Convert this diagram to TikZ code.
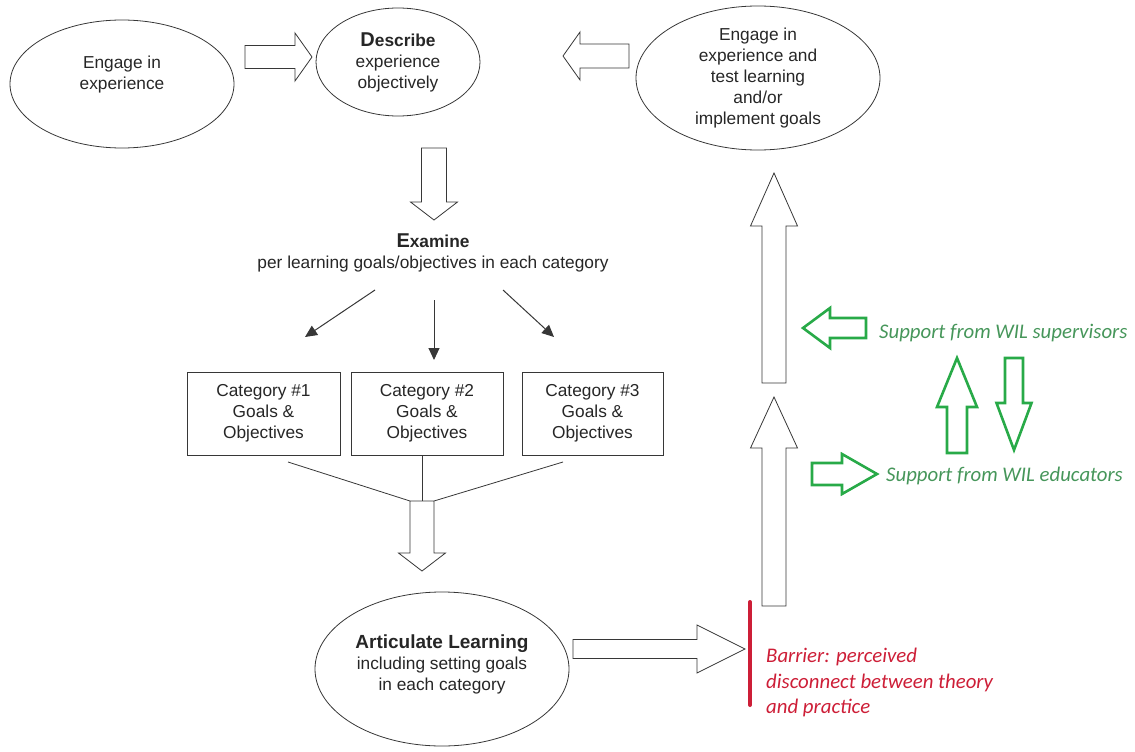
\documentclass[tikz,border=0pt]{standalone}
\usepackage{fontspec}
\setmainfont{Liberation Sans}
\newfontfamily\calib{Carlito}
\usetikzlibrary{positioning,calc,shapes.geometric,arrows.meta}
\definecolor{outline}{RGB}{55,55,55}
\definecolor{barred}{RGB}{205,30,55}
\definecolor{wilgreen}{RGB}{40,170,72}
\definecolor{wiltext}{RGB}{70,150,90}

% hollow block arrow: tail, angle, length, body half, head half, head length
\newcommand\blockarrow[7][]{%
  \draw[fat,#1,shift={(#2)},rotate=#3] (0,-#5) -- ({#4-#7},-#5) -- ({#4-#7},-#6)
    -- (#4,0) -- ({#4-#7},#6) -- ({#4-#7},#5) -- (0,#5) -- cycle;}

\begin{document}
\begin{tikzpicture}[
  x=1pt, y=-1pt,
  every node/.style={font=\fontsize{17.3}{21}\selectfont, text=black!85},
  oval/.style={ellipse, draw=outline, line width=0.8pt, inner sep=0pt, align=center},
  catbox/.style={rectangle, draw=outline, line width=0.8pt, inner sep=0pt, align=center, minimum height=83pt},
  fat/.style={draw=outline, line width=0.8pt, fill=white, line join=miter},
  support/.style={fat, draw=wilgreen, line width=2.6pt},
  thinarr/.style={-{Triangle[length=12pt,width=11pt]}, draw=outline, line width=1pt},
  note/.style={font=\calib\itshape\fontsize{20.8}{25.5}\selectfont, align=left, inner sep=0pt}
]
\useasboundingbox (0,0) rectangle (1135,752);

% top row
\node[oval, minimum width=224pt, minimum height=128pt] (engage) at (122,84) {Engage in\\experience\\[1pt]};
\node[oval, minimum width=164pt, minimum height=108pt] (describe) at (398,62)
  {\textbf{{\fontsize{20}{21}\selectfont D}escribe}\\experience\\objectively};
\node[oval, minimum width=244pt, minimum height=144pt] (retest) at (758,78)
  {Engage in\\experience and\\test learning\\and/or\\implement goals};

\coordinate (a1) at (245,57);
\coordinate (a2) at (629,56);
\coordinate (a3) at (434,148);
\blockarrow{a1}{0}{67}{11.5}{24}{17}
\blockarrow{a2}{180}{66}{12}{24}{17}
\blockarrow{a3}{270}{72}{12.5}{23.5}{18}

% examine
\node[align=center] (examine) at (433,253)
  {\textbf{{\fontsize{20}{21}\selectfont E}xamine}\\per learning goals/objectives in each category};

\node[catbox, minimum width=153pt] (cat1) at (263.5,413.5) {Category \#1\\Goals \&\\Objectives};
\node[catbox, minimum width=152pt] (cat2) at (427,413.5) {Category \#2\\Goals \&\\Objectives};
\node[catbox, minimum width=141pt] (cat3) at (592.5,413.5) {Category \#3\\Goals \&\\Objectives};

\coordinate (e1) at (375,290);
\coordinate (e2) at (434,300);
\coordinate (e3) at (503,290);
\coordinate (t1) at (305,337);
\coordinate (t2) at (434,360);
\coordinate (t3) at (554,337);
\draw[thinarr] (e1) -- (t1);
\draw[thinarr] (e2) -- (t2);
\draw[thinarr] (e3) -- (t3);

% funnel into articulate
\coordinate (join) at (422,501);
\draw[outline, line width=0.8pt] (288,462) -- (410,501);
\draw[outline, line width=0.8pt] (cat2.south -| join) -- (join);
\draw[outline, line width=0.8pt] (563,462) -- (434,501);
\blockarrow{join}{270}{70}{12}{23.5}{18}

\node[oval, minimum width=254pt, minimum height=154pt] (articulate) at (442,669)
  {\textbf{\fontsize{19}{21}\selectfont Articulate Learning}\\including setting goals\\in each category\\[-8pt]};

\coordinate (a5) at (573,649);
\blockarrow{a5}{0}{172}{9.5}{24}{48}

% barrier
\coordinate (bartop) at (750,602);
\coordinate (barbot) at (750,705);
\draw[barred, line width=4pt, line cap=round] (bartop) -- (barbot);
\node[note, text=barred, anchor=north west] (barrier) at (766,648)
  {Barrier: perceived\\disconnect between theory\\and practice};

% upward path
\coordinate (a6) at (774,606);
\coordinate (a7) at (774,383);
\blockarrow{a6}{90}{209}{12}{23.5}{51}
\blockarrow{a7}{90}{210}{12}{23.5}{53}

% support
\node[note, text=wiltext, anchor=west] (supervisors) at (879,333) {Support from WIL supervisors};
\node[note, text=wiltext, anchor=west] (educators) at (886,476) {Support from WIL educators};

\coordinate (g1) at (866,328);
\coordinate (g2) at (957,453);
\coordinate (g3) at (1014,358);
\coordinate (g4) at (812,474);
\blockarrow[support]{g1}{180}{63}{10}{20}{27}
\blockarrow[support]{g2}{90}{95}{10}{20}{49}
\blockarrow[support]{g3}{270}{92}{9}{17.5}{47}
\blockarrow[support]{g4}{0}{65}{11}{20}{35}
\end{tikzpicture}
\end{document}
